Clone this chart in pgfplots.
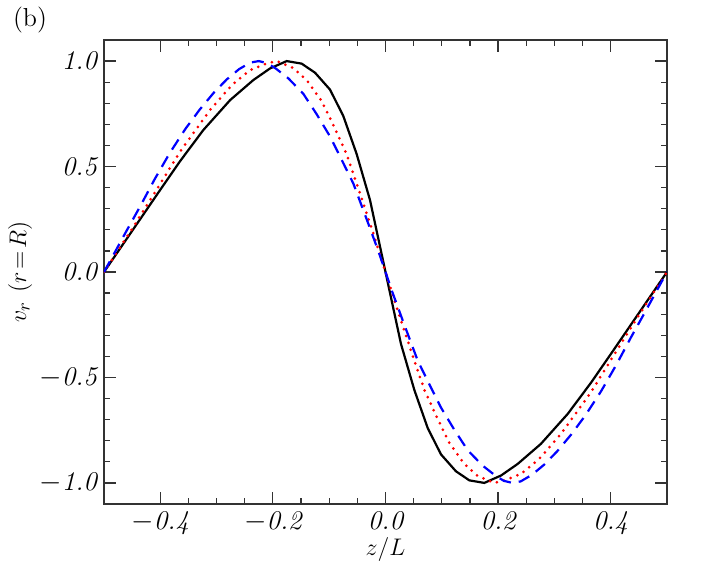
\documentclass[border=0pt]{standalone}
\usepackage{pgfplots}
\pgfplotsset{compat=1.18}

% left half; right half is the mirror image (odd curves)
\pgfplotstableread{
x y
-0.5 0
-0.45 0.195
-0.4 0.39
-0.365 0.525
-0.3236 0.673
-0.276 0.815
-0.2348 0.91
-0.2052 0.965
-0.1755 1.0
-0.149 0.988
-0.1252 0.945
-0.0986 0.865
-0.075 0.74
-0.0513 0.56
-0.0275 0.341
0 0
0.0275 -0.341
0.0513 -0.56
0.075 -0.74
0.0986 -0.865
0.1252 -0.945
0.149 -0.988
0.1755 -1.0
0.2052 -0.965
0.2348 -0.91
0.276 -0.815
0.3236 -0.673
0.365 -0.525
0.4 -0.39
0.45 -0.195
0.5 0
}\blackdata

\pgfplotstableread{
x y
-0.5 0
-0.45 0.205
-0.418 0.341
-0.365 0.57
-0.3117 0.768
-0.273 0.886
-0.2407 0.957
-0.211 0.989
-0.193 1.0
-0.1638 0.967
-0.14 0.91
-0.1133 0.81
-0.0927 0.697
-0.0689 0.558
-0.0453 0.373
-0.0217 0.183
0 0
0.0217 -0.183
0.0453 -0.373
0.0689 -0.558
0.0927 -0.697
0.1133 -0.81
0.14 -0.91
0.1638 -0.967
0.193 -1.0
0.211 -0.989
0.2407 -0.957
0.273 -0.886
0.3117 -0.768
0.365 -0.57
0.418 -0.341
0.45 -0.205
0.5 0
}\reddata

\pgfplotstableread{
x y
-0.5 0
-0.4835 0.08
-0.46 0.195
-0.436 0.31
-0.41 0.44
-0.383 0.565
-0.355 0.68
-0.33 0.77
-0.305 0.85
-0.282 0.913
-0.26 0.962
-0.24 0.993
-0.225 1.0
-0.21 0.99
-0.195 0.965
-0.1725 0.918
-0.146 0.845
-0.1222 0.748
-0.0986 0.643
-0.0808 0.548
-0.0572 0.42
-0.0334 0.25
-0.0128 0.1
0 0
0.0128 -0.1
0.0334 -0.25
0.0572 -0.42
0.0808 -0.548
0.0986 -0.643
0.1222 -0.748
0.146 -0.845
0.1725 -0.918
0.195 -0.965
0.21 -0.99
0.225 -1.0
0.24 -0.993
0.26 -0.962
0.282 -0.913
0.305 -0.85
0.33 -0.77
0.355 -0.68
0.383 -0.565
0.41 -0.44
0.436 -0.31
0.46 -0.195
0.4835 -0.08
0.5 0
}\bluedata

\begin{document}
\begin{tikzpicture}
\path[use as bounding box] (-52pt,-42pt) rectangle (301pt,252pt);
\begin{axis}[
    at={(0,0)}, anchor=south west,
    scale only axis,
    width=281.5pt, height=232pt,
    xmin=-0.5, xmax=0.5,
    ymin=-1.1, ymax=1.1,
    axis line style={black!80, line width=0.6pt},
    every tick/.style={black!80, line width=0.6pt},
    tick align=inside,
    major tick length=6pt,
    minor tick length=3pt,
    xtick={-0.4,-0.2,0,0.2,0.4},
    xticklabels={$-$0.4,$-$0.2,0.0,0.2,0.4},
    minor x tick num=3,
    ytick={-1,-0.5,0,0.5,1},
    yticklabels={$-$1.0,$-$0.5,0.0,0.5,1.0},
    minor y tick num=4,
    tick label style={font=\fontsize{13.5}{15}\selectfont\itshape},
    xlabel={$z/L$},
    ylabel={$v_r\ (r\!=\!R)$},
    label style={font=\fontsize{13}{15}\selectfont},
    xlabel style={at={(axis description cs:0.5,-0.099)}, anchor=center},
    ylabel style={at={(axis description cs:-0.149,0.5)}, anchor=center},
    clip=true,
]
\addplot[black, line width=1.1pt] table[x=x,y=y] {\blackdata};
\addplot[red, line width=1.5pt, line cap=round, dash pattern=on 0pt off 3.6pt] table[x=x,y=y] {\reddata};
\addplot[blue, line width=1.1pt, dash pattern=on 6pt off 4pt] table[x=x,y=y] {\bluedata};
\end{axis}
\node[font=\fontsize{13}{15}\selectfont] at (-37pt,242pt) {(b)};
\end{tikzpicture}
\end{document}
